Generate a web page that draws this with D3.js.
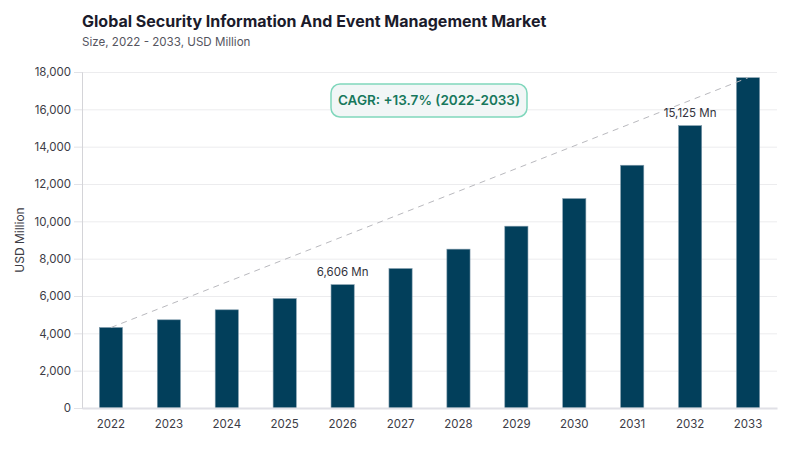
<!DOCTYPE html>
<html>
<head>
<meta charset="utf-8">
<script src="https://cdn.jsdelivr.net/npm/d3@7"></script>
<style>
  body { margin: 0; background: #fff; font-family: Inter, "Noto Sans", sans-serif; }
  .grid line { stroke: #ececee; }
  .grid .domain { display: none; }
  .y-axis text, .x-axis text { fill: #3c3c46; font-size: 11.5px; font-family: Inter, sans-serif; }
</style>
</head>
<body>
<div id="chart"></div>
<script>
// chart data
const years = ['2022', '2023', '2024', '2025', '2026', '2027', '2028', '2029', '2030', '2031', '2032', '2033'];
const marketSize = [4312, 4724, 5260, 5864, 6606, 7470, 8510, 9740, 11218, 13005, 15125, 17694];
const labelledYears = ['2026', '2032'];
const yTicks = [0, 2000, 4000, 6000, 8000, 10000, 12000, 14000, 16000, 18000];
const cagrText = 'CAGR: +13.7% (2022-2033)';

const width = 800, height = 450;
const margin = {top: 72, right: 23, bottom: 42, left: 82};
const innerW = width - margin.left - margin.right;
const innerH = height - margin.top - margin.bottom;

const svg = d3.select('#chart').append('svg')
    .attr('width', width)
    .attr('height', height);

// title + subtitle
svg.append('text')
    .attr('x', margin.left)
    .attr('y', 27)
    .attr('font-size', 16)
    .attr('font-weight', 700)
    .attr('fill', '#1b1b2b')
    .text('Global Security Information And Event Management Market');

svg.append('text')
    .attr('x', margin.left)
    .attr('y', 46)
    .attr('font-size', 11.6)
    .attr('fill', '#555560')
    .text('Size, 2022 - 2033, USD Million');

const chart = svg.append('g')
    .attr('transform', `translate(${margin.left},${margin.top})`);

const x = d3.scaleBand()
    .domain(years)
    .range([0, innerW])
    .paddingInner(0.6)
    .paddingOuter(0.3);

const y = d3.scaleLinear()
    .domain([0, 18000])
    .range([innerH, 0]);

// gridlines
chart.append('g')
    .attr('class', 'grid')
    .call(d3.axisLeft(y).tickValues(yTicks).tickSize(-innerW).tickFormat(''));

// y axis
const yAxis = chart.append('g')
    .attr('class', 'y-axis')
    .call(d3.axisLeft(y).tickValues(yTicks).tickSize(8).tickPadding(3).tickFormat(d3.format(',')));
yAxis.select('.domain').attr('stroke', '#d4d4d8');
yAxis.selectAll('.tick line').attr('stroke', '#e2e2e6');

svg.append('text')
    .attr('transform', `translate(24,${margin.top + innerH / 2}) rotate(-90)`)
    .attr('text-anchor', 'middle')
    .attr('font-size', 12)
    .attr('fill', '#3c3c46')
    .text('USD Million');

// bars
chart.selectAll('.bar')
    .data(years)
  .join('rect')
    .attr('class', 'bar')
    .attr('x', d => x(d))
    .attr('width', x.bandwidth())
    .attr('y', (d, i) => y(marketSize[i]))
    .attr('height', (d, i) => innerH - y(marketSize[i]))
    .attr('fill', '#023f5b')
    .attr('stroke', '#7f9aab')
    .attr('stroke-width', 0.6);

// x axis
const xAxis = chart.append('g')
    .attr('class', 'x-axis')
    .attr('transform', `translate(0,${innerH})`)
    .call(d3.axisBottom(x).tickSize(0).tickPadding(12));
xAxis.select('.domain').attr('stroke', '#e0e0e6').attr('stroke-width', 2);

// CAGR trend line from first to last bar
const last = years.length - 1;
chart.append('line')
    .attr('x1', x(years[0]) + x.bandwidth() / 2)
    .attr('y1', y(marketSize[0]))
    .attr('x2', x(years[last]) + x.bandwidth() / 2)
    .attr('y2', y(marketSize[last]))
    .attr('stroke', '#b9b9be')
    .attr('stroke-width', 1)
    .attr('stroke-dasharray', '6,5');

// value labels
chart.selectAll('.value-label')
    .data(labelledYears)
  .join('text')
    .attr('class', 'value-label')
    .attr('x', d => x(d) + x.bandwidth() / 2)
    .attr('y', d => y(marketSize[years.indexOf(d)]) - 9)
    .attr('text-anchor', 'middle')
    .attr('font-size', 11.5)
    .attr('fill', '#33333d')
    .text(d => d3.format(',')(marketSize[years.indexOf(d)]) + ' Mn');

// CAGR badge
const badge = svg.append('g')
    .attr('transform', 'translate(331,84)');
badge.append('rect')
    .attr('width', 196)
    .attr('height', 33)
    .attr('rx', 9)
    .attr('fill', '#f1f6f6')
    .attr('stroke', '#80d7bc')
    .attr('stroke-width', 1.5);
badge.append('text')
    .attr('x', 98)
    .attr('y', 21)
    .attr('text-anchor', 'middle')
    .attr('font-size', 13.5)
    .attr('font-weight', 600)
    .attr('fill', '#17785c')
    .text(cagrText);
</script>
</body>
</html>
